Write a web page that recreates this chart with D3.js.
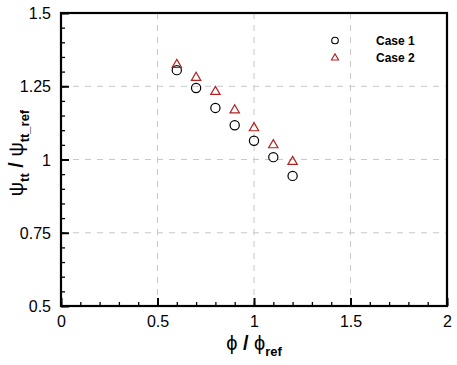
<!DOCTYPE html>
<html><head><meta charset="utf-8">
<script src="https://cdn.jsdelivr.net/npm/d3@7"></script>
<style>body{margin:0;background:#fff}svg{display:block}</style>
</head><body>
<svg id="c" width="457" height="365"></svg>
<script>
const phi = [0.6, 0.7, 0.8, 0.9, 1.0, 1.1, 1.2];
const case1 = [1.305, 1.244, 1.176, 1.117, 1.064, 1.008, 0.944];
const case2 = [1.326, 1.282, 1.234, 1.171, 1.110, 1.052, 0.995];
const xTicks = [0, 0.5, 1, 1.5, 2];
const yTicks = [0.5, 0.75, 1, 1.25, 1.5];
const xTickLabels = ["0", "0.5", "1", "1.5", "2"];
const yTickLabels = ["0.5", "0.75", "1", "1.25", "1.5"];
const seriesNames = ["Case 1", "Case 2"];

const svg = d3.select("#c");
const L = 61, R = 447, T = 13, B = 306;
const x = d3.scaleLinear().domain([0, 2]).range([L, R]);
const y = d3.scaleLinear().domain([0.5, 1.5]).range([B, T]);
const font = "'Liberation Sans', Arial, sans-serif";

// grid
svg.append("g").selectAll("line").data(xTicks.slice(1, -1)).join("line")
  .attr("x1", d => x(d)).attr("x2", d => x(d)).attr("y1", T).attr("y2", B)
  .attr("stroke", "#c8c8c8").attr("stroke-dasharray", "6,6");
svg.append("g").selectAll("line").data(yTicks.slice(1, -1)).join("line")
  .attr("y1", d => y(d)).attr("y2", d => y(d)).attr("x1", L).attr("x2", R)
  .attr("stroke", "#c8c8c8").attr("stroke-dasharray", "6,6");

// axes with inward ticks
const xMinor = d3.range(0, 2.0001, 0.1).map(v => +v.toFixed(2));
const yMinor = d3.range(0.5, 1.5001, 0.05).map(v => +v.toFixed(2));
const gxMin = svg.append("g").attr("transform", `translate(0,${B})`)
  .call(d3.axisBottom(x).tickValues(xMinor).tickSize(-4).tickFormat(""));
const gyMin = svg.append("g").attr("transform", `translate(${L},0)`)
  .call(d3.axisLeft(y).tickValues(yMinor).tickSize(-4).tickFormat(""));
const gx = svg.append("g").attr("transform", `translate(0,${B})`)
  .call(d3.axisBottom(x).tickValues(xTicks).tickSize(-8).tickPadding(12)
    .tickFormat((d, i) => xTickLabels[i]));
const gy = svg.append("g").attr("transform", `translate(${L},0)`)
  .call(d3.axisLeft(y).tickValues(yTicks).tickSize(-8).tickPadding(10)
    .tickFormat((d, i) => yTickLabels[i]));
[gxMin, gyMin, gx, gy].forEach(g => {
  g.select(".domain").remove();
  g.selectAll(".tick line").attr("stroke", "#000").attr("stroke-width", 1.3);
  g.selectAll("text").attr("font-family", font).attr("font-size", 16).attr("fill", "#000");
});
gx.selectAll(".tick line").attr("stroke-width", 2);
gy.selectAll(".tick line").attr("stroke-width", 2);
gx.selectAll("text").attr("dy", "0.55em");
gy.selectAll("text").attr("dy", "0.35em");

// frame
svg.append("rect").attr("x", L).attr("y", T).attr("width", R - L).attr("height", B - T)
  .attr("fill", "none").attr("stroke", "#000").attr("stroke-width", 2.2);

// data
const tri = d3.symbol().type(d3.symbolTriangle).size(38);
svg.append("g").selectAll("circle").data(phi).join("circle")
  .attr("cx", d => x(d)).attr("cy", (d, i) => y(case1[i])).attr("r", 4.6)
  .attr("fill", "none").attr("stroke", "#000").attr("stroke-width", 1.2);
svg.append("g").selectAll("path").data(phi).join("path")
  .attr("d", tri).attr("transform", (d, i) => `translate(${x(d)},${y(case2[i]) + 0.8})`)
  .attr("fill", "none").attr("stroke", "#b22222").attr("stroke-width", 1.2);

// legend
const lg = svg.append("g");
lg.append("circle").attr("cx", 335).attr("cy", 40.5).attr("r", 3.3)
  .attr("fill", "none").attr("stroke", "#000").attr("stroke-width", 1.1);
lg.append("path").attr("d", d3.symbol().type(d3.symbolTriangle).size(22)())
  .attr("transform", "translate(335,58)").attr("fill", "none").attr("stroke", "#b22222").attr("stroke-width", 1.1);
lg.selectAll("text").data(seriesNames).join("text")
  .attr("x", 376).attr("y", (d, i) => 44.5 + i * 17).text(d => d)
  .attr("font-family", font).attr("font-weight", "bold").attr("font-size", 12).attr("fill", "#000");

// x label
const xl = svg.append("text").attr("x", 254).attr("y", 350).attr("text-anchor", "middle")
  .attr("font-family", font).attr("fill", "#000");
xl.append("tspan").attr("font-size", 20).text("\u03D5 ");
xl.append("tspan").attr("font-size", 20).attr("font-weight", "bold").text("/");
xl.append("tspan").attr("font-size", 20).text(" \u03D5");
xl.append("tspan").attr("font-size", 13).attr("font-weight", "bold").attr("dy", 6).text("ref");

// y label
const yl = svg.append("text").attr("transform", "translate(23,153) rotate(-90)").attr("text-anchor", "middle")
  .attr("font-family", font).attr("fill", "#000");
yl.append("tspan").attr("font-size", 20).text("\u03C8");
yl.append("tspan").attr("font-size", 13).attr("font-weight", "bold").attr("dy", 6).text("tt");
yl.append("tspan").attr("font-size", 20).attr("dy", -6).text(" ");
yl.append("tspan").attr("font-size", 20).attr("font-weight", "bold").text("/");
yl.append("tspan").attr("font-size", 20).text(" \u03C8");
yl.append("tspan").attr("font-size", 13).attr("font-weight", "bold").attr("dy", 6).text("tt_ref");
</script>
</body></html>
